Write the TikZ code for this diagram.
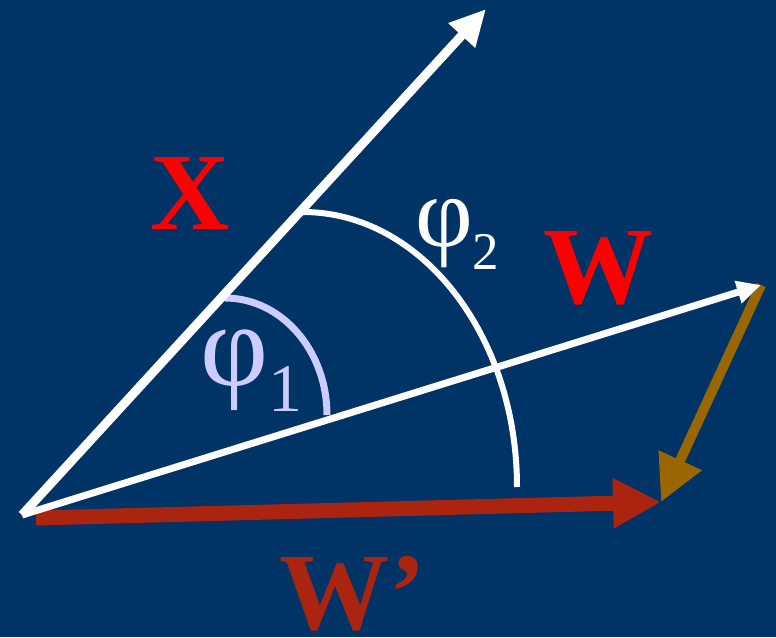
\documentclass[tikz,border=0pt]{standalone}
\usepackage{fontspec}
\setmainfont{Liberation Serif}
\usetikzlibrary{arrows.meta}
\definecolor{VBack}{HTML}{003366}
\definecolor{VRed}{HTML}{FF0000}
\definecolor{VDark}{HTML}{AA2410}
\definecolor{VBrown}{HTML}{996600}
\definecolor{VLav}{HTML}{CCCCFF}

\begin{document}
\begin{tikzpicture}[x=1pt,y=-1pt,lbl/.style={inner sep=0pt,anchor=base}]
    \fill[VBack] (0,0) rectangle (776,637);
    \useasboundingbox (0,0) rectangle (776,637);
    
    \coordinate (origin) at (22,515);
    \coordinate (xtip) at (486,9);
    \coordinate (wtip) at (761,285);
    \coordinate (wpstart) at (36,518);
    \coordinate (wptip) at (661,502);
    
    \draw[white,line width=6pt] (303,212) arc[start angle=-90,end angle=0,x radius=214,y radius=275];
    \draw[VLav,line width=7pt] (225,298) arc[start angle=-90,end angle=0,x radius=102,y radius=117];
    
    \draw[VDark,line width=15pt,-{Triangle[length=48pt,width=47pt]}] (wpstart) -- (wptip);
    \draw[VBrown,line width=10pt,-{Triangle[length=46pt,width=45pt]}] (wtip) -- (wptip);
    \draw[white,line width=9pt,-{Triangle[length=36pt,width=34pt]}] (origin) -- (xtip);
    \draw[white,line width=7pt,-{Triangle[length=24pt,width=22pt]}] (origin) -- (wtip);
    
    \node[lbl,text=VRed,font=\bfseries\fontsize{110}{110}\selectfont] (xlabel) at (190,229) {X};
    \node[lbl,text=VRed,font=\bfseries\fontsize{110}{110}\selectfont] (wlabel) at (598,303) {W};
    \node[lbl,text=VDark,font=\bfseries\fontsize{110}{110}\selectfont] (wplabel) at (353,629) {W’};
    \node[lbl,anchor=base west,text=white,font=\fontsize{100}{100}\selectfont] (phitwo) at (415,246) {φ\raisebox{-23pt}{\fontsize{53}{53}\selectfont 2}};
    \node[lbl,anchor=base west,text=VLav,font=\fontsize{118}{118}\selectfont] (phione) at (200,385) {φ\raisebox{-26pt}{\fontsize{68}{68}\selectfont 1}};
\end{tikzpicture}
\end{document}
